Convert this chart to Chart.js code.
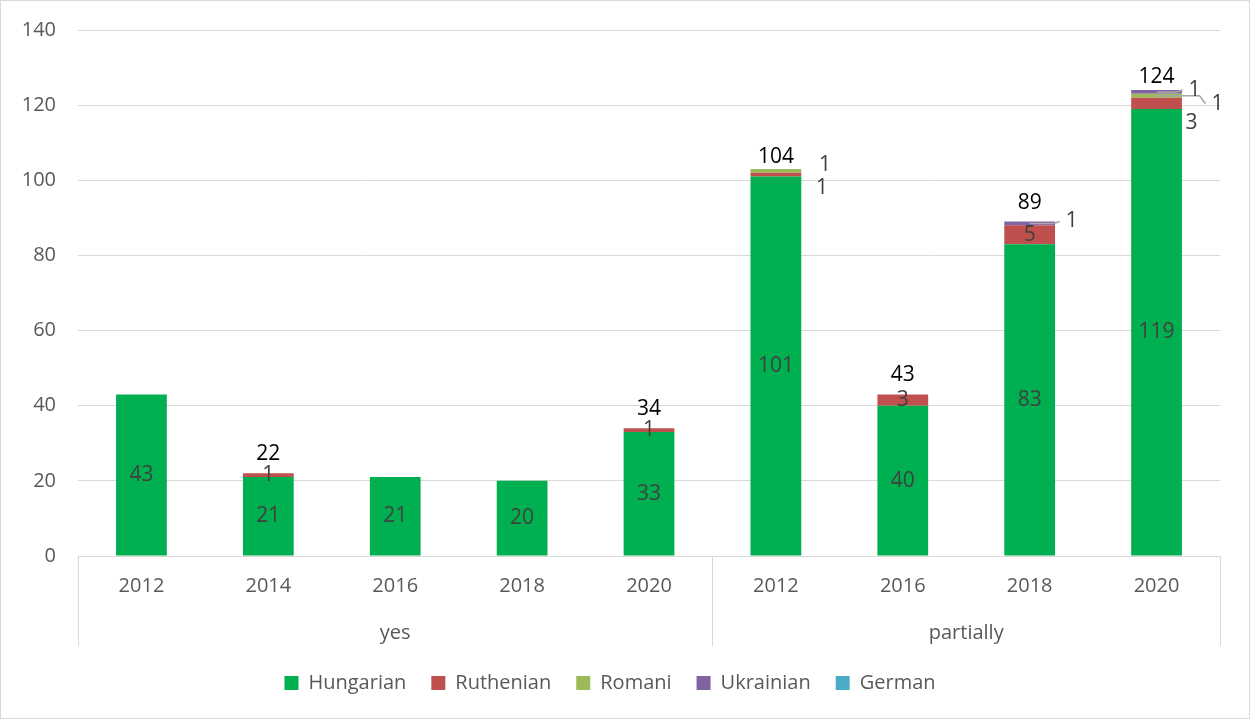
<!DOCTYPE html>
<html>
<head>
<meta charset="utf-8">
<script src="https://cdn.jsdelivr.net/npm/chart.js@4.4.1/dist/chart.umd.min.js"></script>
<style>
  body { margin: 0; background: #fff; }
  #wrap { width: 1250px; height: 719px; }
</style>
</head>
<body>
<div id="wrap"><canvas id="myChart" width="1250" height="719"></canvas></div>
<script>
// dati
const years = ['2012', '2014', '2016', '2018', '2020', '2012', '2016', '2018', '2020'];
const groups = ['yes', 'partially'];
const groupSizes = [5, 4];

const hungarian = [43, 21, 21, 20, 33, 101, 40, 83, 119];
const ruthenian = [0, 1, 0, 0, 1, 1, 3, 5, 3];
const romani    = [0, 0, 0, 0, 0, 1, 0, 0, 1];
const ukrainian = [0, 0, 0, 0, 0, 0, 0, 1, 1];
const german    = [0, 0, 0, 0, 0, 0, 0, 0, 0];
const totals    = [null, 22, null, null, 34, 104, 43, 89, 124];

const yTicks = [0, 20, 40, 60, 80, 100, 120, 140];

const FONT = "'Open Sans', 'Liberation Sans', sans-serif";
const GREY = '#595959';

// etichette spostate fuori dalla barra (dataset:indice -> dx, dy, linea guida)
const labelShift = {
  '1:5': [46, 13, false],
  '2:5': [49, -6, false],
  '3:7': [42, -2, true],
  '1:8': [35, 20, false],
  '2:8': [61, 8, true],
  '3:8': [38, -2, true]
};
// distanza del totale sopra la colonna (default 19)
const totalGap = { 5: 8, 8: 13 };

const labelsPlugin = {
  id: 'labelsPlugin',
  afterDatasetsDraw(chart) {
    const ctx = chart.ctx;
    const y = chart.scales.y;
    ctx.save();
    ctx.font = '21px ' + FONT;
    ctx.textAlign = 'center';
    ctx.textBaseline = 'middle';
    chart.data.datasets.forEach((ds, di) => {
      const meta = chart.getDatasetMeta(di);
      meta.data.forEach((bar, i) => {
        const v = ds.data[i];
        if (!v) return;
        const cy = (bar.y + bar.base) / 2;
        let x = bar.x, ty = cy;
        const sh = labelShift[di + ':' + i];
        if (sh) {
          x = bar.x + sh[0];
          ty = cy + sh[1];
          if (sh[2]) {
            ctx.strokeStyle = '#a6a6a6';
            ctx.lineWidth = 1.5;
            ctx.beginPath();
            ctx.moveTo(bar.x, cy);
            ctx.lineTo(x - 18, cy);
            ctx.lineTo(x - 12, ty);
            ctx.stroke();
          }
        }
        ctx.fillStyle = '#404040';
        ctx.fillText(String(v), x, ty);
      });
    });
    // totali sopra le colonne
    ctx.fillStyle = '#000';
    const m0 = chart.getDatasetMeta(0);
    totals.forEach((t, i) => {
      if (t == null) return;
      const gap = totalGap[i] !== undefined ? totalGap[i] : 19;
      ctx.fillText(String(t), m0.data[i].x, y.getPixelForValue(t) - gap);
    });
    ctx.restore();
  }
};

const groupPlugin = {
  id: 'groupPlugin',
  afterDraw(chart) {
    const ctx = chart.ctx;
    const xs = chart.scales.x;
    const area = chart.chartArea;
    ctx.save();
    ctx.strokeStyle = '#d9d9d9';
    ctx.lineWidth = 1;
    // linea asse x
    ctx.beginPath();
    ctx.moveTo(area.left, area.bottom + 0.5);
    ctx.lineTo(area.right, area.bottom + 0.5);
    ctx.stroke();
    // separatori e nomi dei gruppi
    let start = 0;
    let left = area.left;
    ctx.font = '20px ' + FONT;
    ctx.fillStyle = GREY;
    ctx.textAlign = 'center';
    ctx.textBaseline = 'middle';
    groups.forEach((g, gi) => {
      const end = start + groupSizes[gi] - 1;
      let right;
      if (end >= years.length - 1) right = area.right;
      else right = (xs.getPixelForValue(end) + xs.getPixelForValue(end + 1)) / 2;
      ctx.beginPath();
      ctx.moveTo(Math.round(left) + 0.5, area.bottom);
      ctx.lineTo(Math.round(left) + 0.5, area.bottom + 90);
      ctx.stroke();
      ctx.fillText(g, (left + right) / 2, area.bottom + 77);
      left = right;
      start = end + 1;
    });
    ctx.beginPath();
    ctx.moveTo(Math.round(area.right) + 0.5, area.bottom);
    ctx.lineTo(Math.round(area.right) + 0.5, area.bottom + 90);
    ctx.stroke();
    // bordo esterno
    ctx.strokeRect(0.5, 0.5, chart.width - 1, chart.height - 1);
    ctx.restore();
  }
};

function makeSet(label, data, color) {
  return {
    label: label,
    data: data,
    backgroundColor: color,
    borderWidth: 0,
    barPercentage: 0.4,
    categoryPercentage: 1.0
  };
}

const ctx = document.getElementById('myChart').getContext('2d');
new Chart(ctx, {
  type: 'bar',
  data: {
    labels: years,
    datasets: [
      makeSet('Hungarian', hungarian, '#00b050'),
      makeSet('Ruthenian', ruthenian, '#c0504d'),
      makeSet('Romani', romani, '#9bbb59'),
      makeSet('Ukrainian', ukrainian, '#8064a2'),
      makeSet('German', german, '#4bacc6')
    ]
  },
  options: {
    responsive: false,
    animation: false,
    layout: { padding: { left: 0, right: 30, top: 30, bottom: 16 } },
    plugins: {
      tooltip: { enabled: false },
      legend: {
        position: 'bottom',
        labels: {
          color: GREY,
          font: { family: FONT, size: 20 },
          boxWidth: 14,
          boxHeight: 14,
          padding: 25
        }
      }
    },
    scales: {
      x: {
        stacked: true,
        grid: { display: false, drawTicks: false },
        border: { display: false },
        ticks: { color: GREY, font: { family: FONT, size: 20 }, padding: 18, maxRotation: 0 },
        afterFit(axis) { axis.height = 92; }
      },
      y: {
        stacked: true,
        min: 0,
        max: 140,
        afterBuildTicks(axis) { axis.ticks = yTicks.map(v => ({ value: v })); },
        grid: { color: '#d9d9d9', drawTicks: false },
        border: { display: false },
        ticks: { color: GREY, font: { family: FONT, size: 20 }, padding: 22 },
        afterFit(axis) {
          axis.width = 78;
          axis.paddingTop = 0;
          axis.paddingBottom = 0;
        }
      }
    }
  },
  plugins: [labelsPlugin, groupPlugin]
});
</script>
</body>
</html>
